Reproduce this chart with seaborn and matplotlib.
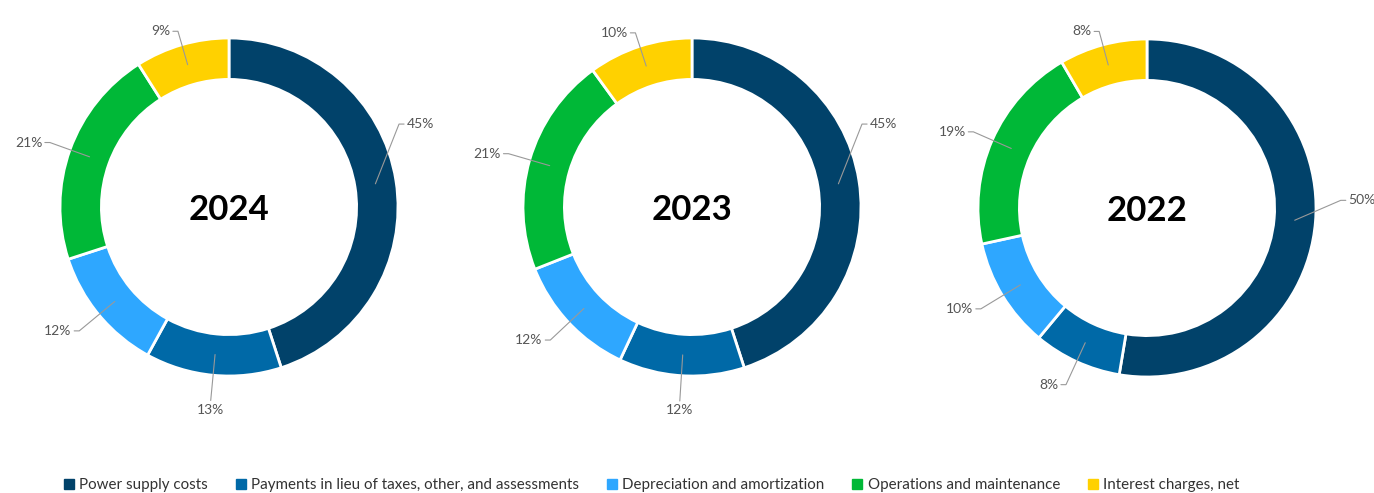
import numpy as np
import seaborn as sns
import matplotlib.pyplot as plt
from matplotlib.lines import Line2D

sns.set_theme(style="white")
plt.rcParams['font.family'] = ['Lato', 'DejaVu Sans']

categories = ['Power supply costs',
              'Payments in lieu of taxes, other, and assessments',
              'Depreciation and amortization',
              'Operations and maintenance',
              'Interest charges, net']
years = ['2024', '2023', '2022']
share_2024 = [45, 13, 12, 21, 9]
share_2023 = [45, 12, 12, 21, 10]
share_2022 = [50, 8, 10, 19, 8]
shares = [share_2024, share_2023, share_2022]

colors = sns.color_palette(['#01426A', '#0069A7', '#2EA7FF', '#00B837', '#FFD100'])

# layout (pixels) for each donut: center x, center y from top
W, H = 1374, 493
centers = [(229, 207), (692, 207), (1147, 208)]
R_PX = 169
LIM = 1.4
# highcharts nudges the first label upward a bit
first_label_nudge = [17, 17, 7]

fig = plt.figure(figsize=(W / 100, H / 100), dpi=100)

for (cx, cy), year, vals, nudge in zip(centers, years, shares, first_label_nudge):
    size = 2 * LIM * R_PX
    ax = fig.add_axes([(cx - size / 2) / W, 1 - (cy + size / 2) / H, size / W, size / H])
    wedges, _ = ax.pie(vals, colors=colors, startangle=90, counterclock=False, radius=1,
                       wedgeprops=dict(width=0.245, edgecolor='white', linewidth=2))
    ax.set_xlim(-LIM, LIM)
    ax.set_ylim(-LIM, LIM)
    ax.set_aspect('equal')
    ax.axis('off')

    for i, (w, v) in enumerate(zip(wedges, vals)):
        mid = np.deg2rad((w.theta1 + w.theta2) / 2)
        lab_ang = mid + (np.deg2rad(nudge) if i == 0 else 0)
        r_in = 0.877
        x0, y0 = r_in * np.cos(mid), r_in * np.sin(mid)
        r_lab = 1.15 - 0.07 * max(np.sin(lab_ang), 0)
        x1, y1 = r_lab * np.cos(lab_ang), r_lab * np.sin(lab_ang)
        txt = f'{v}%'
        if abs(np.cos(lab_ang)) < 0.2 and np.sin(lab_ang) < 0:
            ax.plot([x0, x1], [y0, y1], color='#999999', lw=0.8, clip_on=False)
            ax.text(x1, y1 - 0.02, txt, ha='center', va='top', fontsize=10, color='#555555')
        else:
            side = 1 if np.cos(lab_ang) > 0 else -1
            x2 = x1 + side * 0.03
            ax.plot([x0, x1, x2], [y0, y1, y1], color='#999999', lw=0.8, clip_on=False)
            ax.text(x2 + side * 0.015, y1, txt, ha='left' if side > 0 else 'right',
                    va='center', fontsize=10, color='#555555')

    ax.text(0, -0.015, year, ha='center', va='center', fontsize=25, fontweight='bold', color='black')

handles = [Line2D([], [], marker='s', linestyle='none', markersize=7, color=c) for c in colors]
fig.legend(handles, categories, loc='center', bbox_to_anchor=(0.474, 1 - 485 / H), ncol=5,
           frameon=False, fontsize=10.9, handletextpad=0.3, columnspacing=1.75,
           labelcolor='#333333', handlelength=0.8)

fig.savefig('out.png', dpi=100)
